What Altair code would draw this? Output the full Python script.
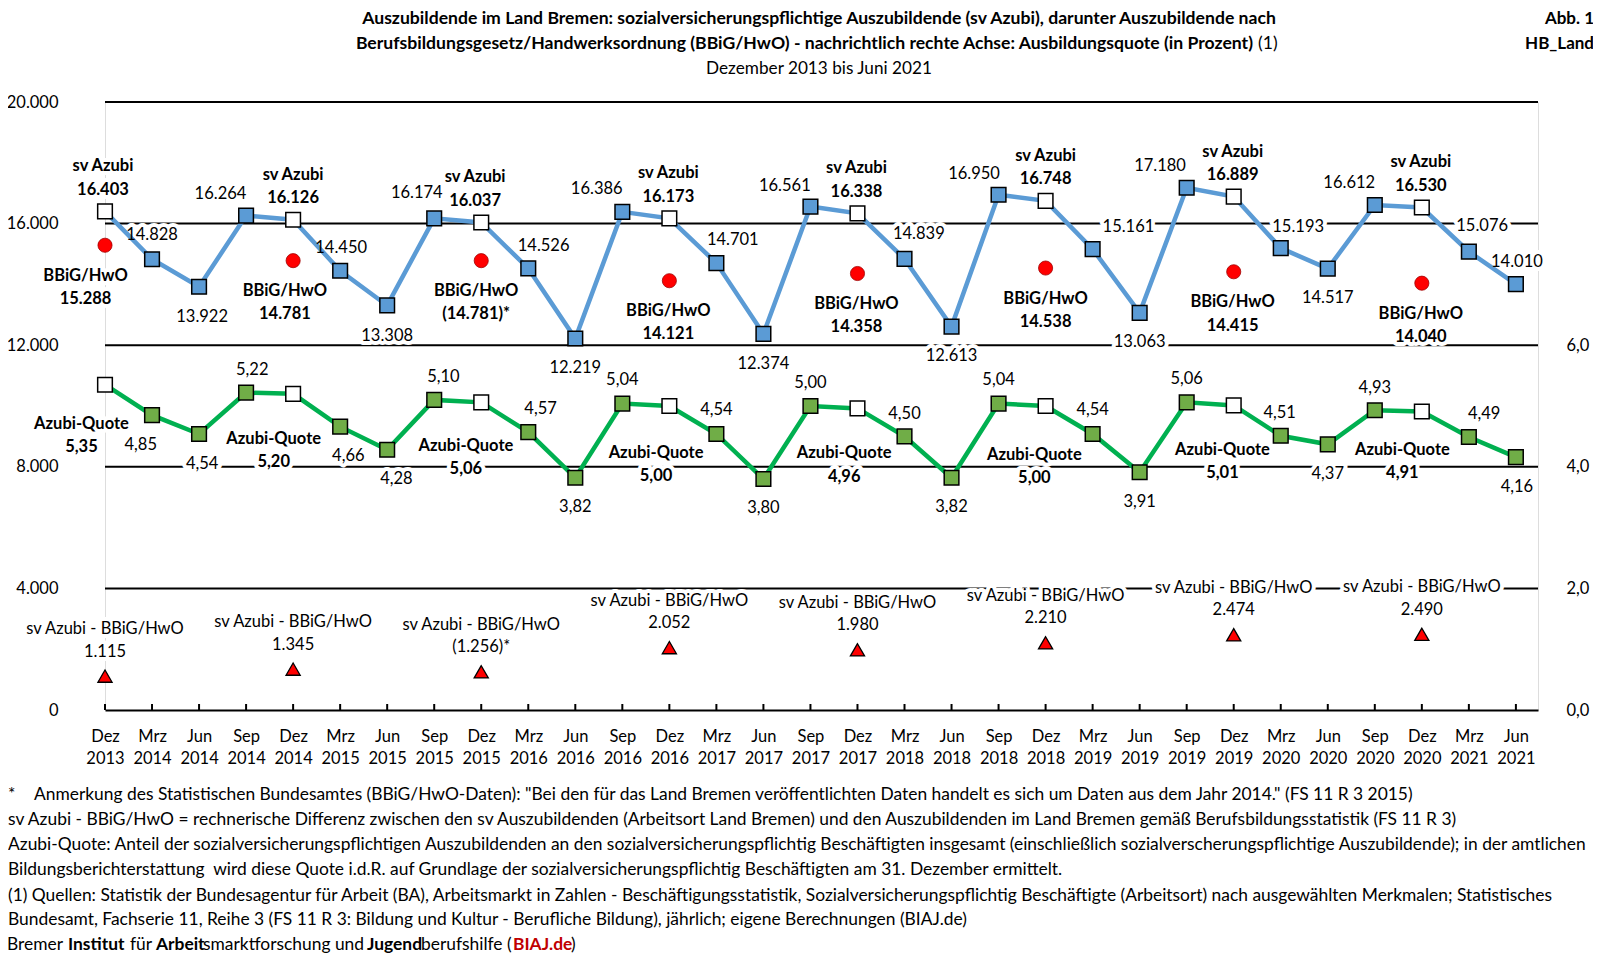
import json
import altair as alt
import pandas as pd

# ---------------- data ----------------
periods = ["Dez 2013", "Mrz 2014", "Jun 2014", "Sep 2014", "Dez 2014", "Mrz 2015", "Jun 2015",
           "Sep 2015", "Dez 2015", "Mrz 2016", "Jun 2016", "Sep 2016", "Dez 2016", "Mrz 2017",
           "Jun 2017", "Sep 2017", "Dez 2017", "Mrz 2018", "Jun 2018", "Sep 2018", "Dez 2018",
           "Mrz 2019", "Jun 2019", "Sep 2019", "Dez 2019", "Mrz 2020", "Jun 2020", "Sep 2020",
           "Dez 2020", "Mrz 2021", "Jun 2021"]
sv_azubi = [16403, 14828, 13922, 16264, 16126, 14450, 13308, 16174, 16037, 14526, 12219,
            16386, 16173, 14701, 12374, 16561, 16338, 14839, 12613, 16950, 16748, 15161,
            13063, 17180, 16889, 15193, 14517, 16612, 16530, 15076, 14010]
azubi_quote = [5.35, 4.85, 4.54, 5.22, 5.20, 4.66, 4.28, 5.10, 5.06, 4.57, 3.82, 5.04, 5.00,
               4.54, 3.80, 5.00, 4.96, 4.50, 3.82, 5.04, 5.00, 4.54, 3.91, 5.06, 5.01, 4.51,
               4.37, 4.93, 4.91, 4.49, 4.16]
bbig_hwo = [15288, 14781, 14781, 14121, 14358, 14538, 14415, 14040]
bbig_estimated = [False, False, True, False, False, False, False, False]
differenz = [1115, 1345, 1256, 2052, 1980, 2210, 2474, 2490]
left_ticks = [0, 4000, 8000, 12000, 16000, 20000]
right_ticks = [0, 2, 4, 6]
grid_values = [4000, 8000, 12000, 16000, 20000]

# ---------------- layout / style ----------------
FONT = "Lato"
W, H = 1433, 608
XMAX, YMAX, QMAX = 30.47, 20000, 10
F = 1605 / 1568          # offsets below were measured on the shrunk reference
PXX = W / XMAX
FS = 16.5
DY_SHIFT = 3             # small baseline correction for the label font

# label offsets (px on shrunk reference) for the non-December points
sv_off = {1: (0, -27), 2: (3, 27), 3: (-25, -24), 5: (1, -25), 6: (0, 27), 7: (-17, -28),
          9: (15, -25), 10: (0, 26), 11: (-25, -25), 13: (16, -26), 14: (0, 26),
          15: (-25, -23), 17: (14, -27), 18: (0, 26), 19: (-24, -23), 21: (35, -25),
          22: (0, 25), 23: (-26, -24), 25: (17, -24), 26: (0, 26), 27: (-25, -24),
          29: (13, -28), 30: (1, -25)}
q_off = {1: (-11, 26), 2: (3, 26), 3: (6, -25), 5: (8, 26), 6: (9, 26), 7: (9, -25),
         9: (12, -26), 10: (0, 26), 11: (0, -26), 13: (0, -26), 14: (0, 25), 15: (0, -25),
         17: (0, -25), 18: (0, 26), 19: (0, -26), 21: (0, -26), 22: (0, 26), 23: (0, -26),
         25: (-1, -25), 26: (0, 26), 27: (0, -25), 29: (15, -25), 30: (1, 26)}
sv_dez_dx = [-2, 0, -6, -1, -1, 0, -1, -1]
bb_dez_dx = [-19, -8, -5, -1, -1, 0, -1, -1]
q_dez_off = [(-23, 35), (-19, 41), (-15, 40), (-13, 43), (-13, 41), (-11, 45), (-11, 41), (-19, 35)]
LH = 22.5


def de_int(v):
    return f"{v:,}".replace(",", ".")


def de_dec(v):
    return f"{v:.2f}".replace(".", ",")


dez_idx = [i for i, p in enumerate(periods) if p.startswith("Dez")]
months = [p.split()[0] for p in periods]

xsc = alt.Scale(domain=[0, XMAX], nice=False, zero=False)
ysc = alt.Scale(domain=[0, YMAX], nice=False)
qsc = alt.Scale(domain=[0, QMAX], nice=False)


def row(i, val, dx, dy, text, per_unit):
    return {"x": i + dx * F / PXX, "y": val - (dy + DY_SHIFT) * F * per_unit, "t": text}


UL = YMAX / H
UR = QMAX / H

left_normal, left_bold, right_normal, right_bold = [], [], [], []
for i, v in enumerate(sv_azubi):
    if i in sv_off:
        dx, dy = sv_off[i]
        left_normal.append(row(i, v, dx, dy, de_int(v), UL))
for k, i in enumerate(dez_idx):
    v = sv_azubi[i]
    left_bold.append(row(i, v, sv_dez_dx[k], -47, "sv Azubi", UL))
    left_bold.append(row(i, v, sv_dez_dx[k], -24, de_int(v), UL))
    b = bbig_hwo[k]
    btxt = f"({de_int(b)})*" if bbig_estimated[k] else de_int(b)
    left_bold.append(row(i, b, bb_dez_dx[k], 27, "BBiG/HwO", UL))
    left_bold.append(row(i, b, bb_dez_dx[k], 27 + LH, btxt, UL))
    d = differenz[k]
    dtxt = f"({de_int(d)})*" if bbig_estimated[k] else de_int(d)
    left_normal.append(row(i, d, 0, -49, "sv Azubi - BBiG/HwO", UL))
    left_normal.append(row(i, d, 0, -27, dtxt, UL))
    q = azubi_quote[i]
    qdx, qdy = q_dez_off[k]
    right_bold.append(row(i, q, qdx, qdy, "Azubi-Quote", UR))
    right_bold.append(row(i, q, qdx, qdy + LH, de_dec(q), UR))
for i, q in enumerate(azubi_quote):
    if i in q_off:
        dx, dy = q_off[i]
        right_normal.append(row(i, q, dx, dy, de_dec(q), UR))

series_df = pd.DataFrame({"i": range(len(periods)), "sv": sv_azubi, "q": azubi_quote, "m": months})
dez_df = pd.DataFrame({"i": dez_idx, "bb": bbig_hwo, "diff": differenz})

label_arrays = json.dumps([p.split(" ") for p in periods])
x_axis = alt.Axis(values=list(range(len(periods))),
                  labelExpr=label_arrays + "[round(datum.value)]",
                  domain=True, domainColor="black", domainWidth=2, ticks=False, grid=False,
                  labelFontSize=16.5, labelColor="black", labelFont=FONT, labelPadding=18,
                  labelBaseline="top", labelLineHeight=22.5, labelAngle=0,
                  labelOverlap=False, labelFlush=False, title=None)


def X(field="i"):
    return alt.X(f"{field}:Q", scale=xsc, axis=x_axis)


def text_layers(rows, scale, weight):
    df = pd.DataFrame(rows)
    enc = dict(x=X("x"), y=alt.Y("y:Q", scale=scale, axis=None), text="t:N")
    halo = alt.Chart(df).mark_text(font=FONT, fontSize=FS, fontWeight=weight, color="white",
                                   stroke="white", strokeWidth=8, strokeJoin="round",
                                   baseline="middle", align="center").encode(**enc)
    txt = alt.Chart(df).mark_text(font=FONT, fontSize=FS, fontWeight=weight, color="black",
                                  baseline="middle", align="center").encode(**enc)
    return halo, txt


left_axis = alt.Axis(orient="left", values=left_ticks,
                     labelExpr="replace(format(datum.value, ',d'), ',', '.')",
                     domain=False, ticks=False, grid=False, labelPadding=47,
                     labelFontSize=16.5, labelColor="black", labelFont=FONT, title=None)
right_axis = alt.Axis(orient="right", values=right_ticks,
                      labelExpr="replace(format(datum.value, '.1f'), '.', ',')",
                      domain=False, ticks=False, grid=False, labelPadding=28,
                      labelFontSize=16.5, labelColor="black", labelFont=FONT, title=None)

xticks = alt.Chart(pd.DataFrame({"i": range(len(periods))})).mark_rule(
    color="black", strokeWidth=2).encode(x=X("i"), y=alt.value(H), y2=alt.value(H - 6))

grid = alt.Chart(pd.DataFrame({"v": grid_values})).mark_rule(color="black", strokeWidth=2).encode(
    y=alt.Y("v:Q", scale=ysc, axis=left_axis), x=alt.value(0), x2=alt.value(W))

line_sv = alt.Chart(series_df).mark_line(color="#5B9BD5", strokeWidth=4.5).encode(
    x=X(), y=alt.Y("sv:Q", scale=ysc, axis=None))
pts_sv = alt.Chart(series_df).mark_point(shape="square", filled=True, size=215, stroke="black",
                                         strokeWidth=1.5, opacity=1).encode(
    x=X(), y=alt.Y("sv:Q", scale=ysc, axis=None),
    fill=alt.condition(alt.datum.m == "Dez", alt.value("white"), alt.value("#5B9BD5")))

line_q = alt.Chart(series_df).mark_line(color="#00B050", strokeWidth=4.5).encode(
    x=X(), y=alt.Y("q:Q", scale=qsc, axis=right_axis))
pts_q = alt.Chart(series_df).mark_point(shape="square", filled=True, size=215, stroke="black",
                                        strokeWidth=1.5, opacity=1).encode(
    x=X(), y=alt.Y("q:Q", scale=qsc, axis=None),
    fill=alt.condition(alt.datum.m == "Dez", alt.value("white"), alt.value("#70AD47")))

pts_bb = alt.Chart(dez_df).mark_point(shape="circle", filled=True, size=200, fill="#FF0000",
                                      stroke="#A00000", strokeWidth=0.8, opacity=1).encode(
    x=X(), y=alt.Y("bb:Q", scale=ysc, axis=None))
pts_diff = alt.Chart(dez_df).mark_point(shape="triangle-up", filled=True, size=200, fill="#FF0000",
                                        stroke="black", strokeWidth=1.3, opacity=1).encode(
    x=X(), y=alt.Y("diff:Q", scale=ysc, axis=None))

ln_h, ln_t = text_layers(left_normal, ysc, "normal")
lb_h, lb_t = text_layers(left_bold, ysc, "bold")
rn_h, rn_t = text_layers(right_normal, qsc, "normal")
rb_h, rb_t = text_layers(right_bold, qsc, "bold")


def annot(text, x, y, weight="normal", align="left", color="black", size=16.5):
    return alt.Chart(pd.DataFrame({"t": [text]})).mark_text(
        font=FONT, fontSize=size, fontWeight=weight, align=align, baseline="middle",
        color=color).encode(x=alt.value(x), y=alt.value(y), text="t:N")


title1 = "Auszubildende im Land Bremen: sozialversicherungspflichtige Auszubildende (sv Azubi), darunter Auszubildende nach"
title2 = "Berufsbildungsgesetz/Handwerksordnung (BBiG/HwO) - nachrichtlich rechte Achse: Ausbildungsquote (in Prozent)"
subtitle = "Dezember 2013 bis Juni 2021"
notes = [
    "Anmerkung des Statistischen Bundesamtes (BBiG/HwO-Daten): \"Bei den für das Land Bremen veröffentlichten Daten handelt es sich um Daten aus dem Jahr 2014.\" (FS 11 R 3 2015)",
    "sv Azubi - BBiG/HwO = rechnerische Differenz zwischen den sv Auszubildenden (Arbeitsort Land Bremen) und den Auszubildenden im Land Bremen gemäß Berufsbildungsstatistik (FS 11 R 3)",
    "Azubi-Quote: Anteil der sozialversicherungspflichtigen Auszubildenden an den sozialversicherungspflichtig Beschäftigten insgesamt (einschließlich sozialverscherungspflichtige Auszubildende); in der amtlichen",
    "Bildungsberichterstattung\u00a0 wird diese Quote i.d.R. auf Grundlage der sozialversicherungspflichtig Beschäftigten am 31. Dezember ermittelt.",
    "(1) Quellen: Statistik der Bundesagentur für Arbeit (BA), Arbeitsmarkt in Zahlen - Beschäftigungsstatistik, Sozialversicherungspflichtig Beschäftigte (Arbeitsort) nach ausgewählten Merkmalen; Statistisches",
    "Bundesamt, Fachserie 11, Reihe 3 (FS 11 R 3: Bildung und Kultur - Berufliche Bildung), jährlich; eigene Berechnungen (BIAJ.de)",
]
note_y = [693, 718, 743, 768, 794, 818]
NFS = 17.4
TFS = 17.6

annots = [
    annot(title1, 714, -83, "bold", "center", size=TFS),
    annot(title2, 1148, -58, "bold", "right", size=TFS),
    annot("(1)", 1153, -58, "normal", "left", size=TFS),
    annot(subtitle, 714, -33, "normal", "center", size=17.2),
    annot("Abb. 1", 1489, -83, "bold", "right", size=17),
    annot("HB_Land", 1489, -58, "bold", "right", size=17),
    annot("*", -97, note_y[0], size=NFS),
    annot(notes[0], -71, note_y[0], size=NFS),
]
for txt, yy in zip(notes[1:], note_y[1:]):
    annots.append(annot(txt, -97, yy, size=NFS))
last_y = 843
segments = [("Bremer", -98, "normal", "black"), ("Institut", -37, "bold", "black"),
            ("für", 25, "normal", "black"), ("Arbeit", 51, "bold", "black"),
            ("smarktforschung und", 98, "normal", "black"), ("Jugend", 262, "bold", "black"),
            ("berufshilfe (", 316, "normal", "black"), ("BIAJ.de", 408, "bold", "#C00000"),
            (")", 466, "normal", "black")]
for txt, xx, wt, col in segments:
    annots.append(annot(txt, xx, last_y, wt, "left", col, size=NFS))

chart = alt.layer(
    xticks, grid, ln_h, lb_h, rn_h, rb_h,
    line_sv, line_q, pts_sv, pts_q, pts_bb, pts_diff,
    ln_t, lb_t, rn_t, rb_t, *annots
).resolve_scale(y="independent").properties(
    width=W, height=H,
    padding={"left": 97, "top": 94, "right": 55, "bottom": 246},
    autosize=alt.AutoSizeParams(type="none"),
).configure_view(stroke=None).configure(font=FONT)

chart.save("out.html", embed_options={"renderer": "svg", "actions": False})
